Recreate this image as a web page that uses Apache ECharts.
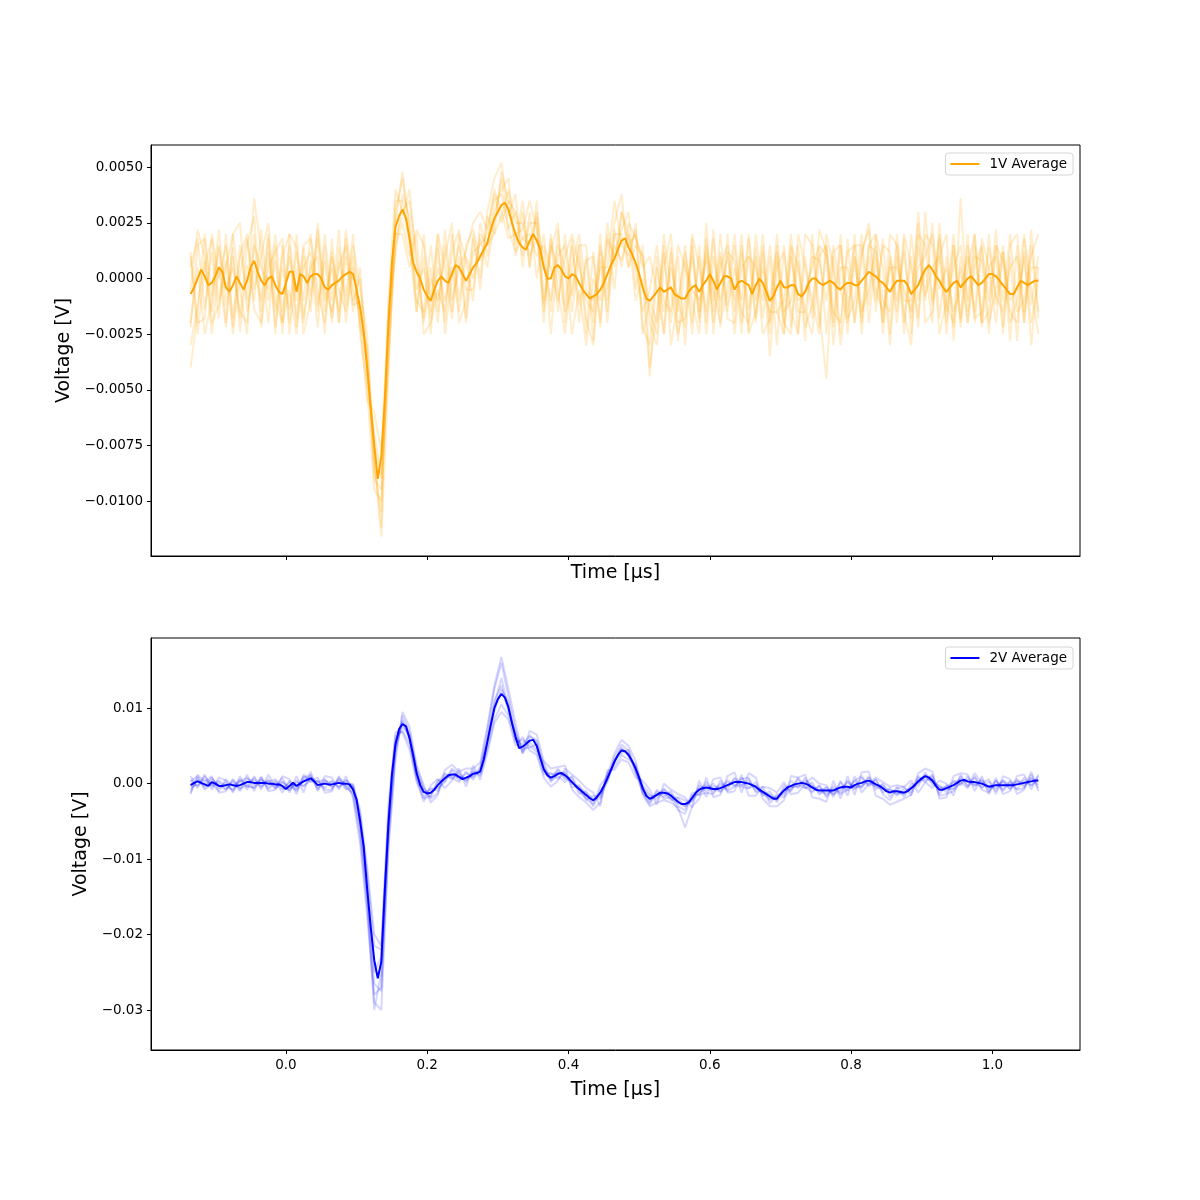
<!DOCTYPE html>
<html>
<head>
<meta charset="utf-8">
<script src="https://cdn.jsdelivr.net/npm/echarts@6/dist/echarts.min.js"></script>
<style>
  html, body { margin: 0; padding: 0; background: #fff; }
  #chart { width: 1200px; height: 1200px; }
</style>
</head>
<body>
<div id="chart"></div>
<script>
// all voltages below are in units of 0.1 mV (1e-4 V)
const UNIT = 1e-4
const T_START = -0.135   // µs, first sample
const AVG_STEP = 0.005   // µs between samples of the averages
const TRACE_STEP = 0.01  // µs between samples of the single shots

const xTicks = [0, 0.2, 0.4, 0.6, 0.8, 1.0]
const yTicks1V = [-0.01, -0.0075, -0.005, -0.0025, 0, 0.0025, 0.005]
const yTicks2V = [-0.03, -0.02, -0.01, 0, 0.01]

const avg1V = [
  -7, -4, 0, 4, 1, -3, -2, 1, 5, 3, -4, -6, -3, 1, -2, -5, -1, 5, 8, 3,
  -1, -3, 0, 1, -3, -6, -7, -2, 3, 3, -6, 2, 1, -2, 1, 2, 2, 0, -4, -5,
  -3, -2, -1, 1, 2, 3, 2, -5, -13, -24, -40, -58, -75, -90, -80, -54, -21, 7, 23, 28,
  31, 27, 18, 7, 3, 0, -5, -8, -10, -5, -1, 1, -1, -2, 2, 6, 5, 2, -1, 2,
  5, 7, 10, 13, 16, 22, 27, 30, 33, 34, 31, 25, 20, 16, 14, 13, 17, 20, 17, 13,
  5, 0, 0, 5, 6, 4, 1, 0, 2, 1, -2, -5, -7, -9, -8, -7, -5, -2, 2, 6,
  9, 13, 17, 18, 14, 11, 7, 2, -4, -9, -10, -8, -6, -4, -6, -5, -4, -7, -8, -9,
  -9, -6, -4, -3, -6, -3, -1, 2, -1, -5, -2, 1, 1, 0, -5, -2, -1, -2, -3, -7,
  -3, 0, -2, -6, -10, -8, -4, -1, -4, -4, -3, -3, -7, -8, -6, -2, 0, 0, -2, -3,
  -2, -1, -2, -4, -5, -3, -2, -2, -3, -3, -1, 1, 3, 2, 1, -1, -2, -4, -6, -3,
  -1, -1, -1, -3, -7, -5, -3, 1, 4, 6, 4, 1, -1, -4, -6, -4, -2, -1, -4, -2,
  0, 1, -1, -3, -2, 0, 2, 2, 1, -1, -3, -5, -7, -7, -4, -1, -2, -3, -2, -1,
  -1,
]

const avg2V = [
  -2, 1, 3, 1, -1, -3, 2, 0, -3, -3, -2, -1, -2, -3, -2, 0, 2, 2, 1, 1,
  1, 1, 0, 0, -1, -1, -3, -7, -3, 1, -3, 0, 3, 5, 7, 3, -2, -1, 0, -1,
  -1, 0, 1, 0, 0, -1, -8, -21, -50, -83, -140, -190, -234, -258, -236, -141, -55, 12, 52, 72,
  79, 76, 60, 38, 14, -2, -11, -13, -12, -8, -2, 3, 7, 11, 12, 12, 9, 6, 8, 10,
  13, 14, 16, 32, 55, 78, 100, 112, 119, 114, 101, 80, 62, 47, 49, 53, 57, 58, 50, 34,
  19, 11, 8, 10, 13, 14, 11, 7, 2, -3, -7, -11, -15, -19, -22, -18, -12, -3, 7, 18,
  29, 38, 44, 43, 38, 30, 20, 8, -6, -16, -20, -18, -15, -12, -12, -13, -16, -20, -24, -27,
  -27, -25, -19, -12, -8, -6, -5, -6, -7, -7, -6, -4, -2, 0, 2, 2, 2, 1, 0, -2,
  -4, -8, -11, -14, -17, -20, -20, -14, -9, -5, -3, -1, 0, 1, 0, -2, -5, -8, -9, -9,
  -9, -9, -9, -7, -5, -4, -4, -5, -2, 0, 1, 3, 4, 2, -1, -3, -6, -10, -12, -10,
  -10, -11, -12, -10, -6, -2, 3, 7, 10, 8, 4, -3, -8, -8, -6, -4, -2, 1, 4, 5,
  3, 2, 2, 1, 0, -2, -4, -3, -2, -2, -2, -2, -2, -2, -1, 0, 1, 2, 3, 4,
  4,
]

// single shots, 1 V drive
const shot1V_a = [
  -30, -12, 8, -15, 14, -20, 10, -18, 15, 28,
  -15, 18, -22, 5, -14, 12, -10, 20, -12, 8,
  -18, 14, -8, 20, -25, -50, -95, -100, -30, 30,
  45, 22, -15, 10, -25, 14, -20, 12, 22, -18,
  18, -5, 30, 45, 52, 28, 38, 5, 30, 0,
  20, -15, 22, -12, 18, -20, 10, -28, 12, -10,
  25, 38, 5, 25, -22, -30, 10, -25, 14, -28,
  8, -25, 15, -20, 18, -22, 20, -15, 12, -24,
  14, -18, 10, -30, 15, -22, 8, -28, 20, -15,
  -45, 10, -25, 18, -20, 12, 22, -15, 18, -25,
  15, -20, 10, -22, 30, -10, 18, -25, 15, -18,
  20, -20, 14, -10, 22, -22, 10, -28, 18, -12,
  10,
]
const shot1V_b = [
  5, 18, -14, 12, -18, 20, -22, 15, -10, 36,
  12, -20, 15, -25, 20, -18, 14, -8, 22, -15,
  12, -20, 18, -10, 0, -35, -80, -112, -10, 40,
  30, 35, 10, -18, 5, -20, 15, -15, 20, 8,
  -10, 25, 10, 30, 40, 45, 10, 30, 5, 35,
  -10, 18, -15, 20, -8, 15, -25, 12, -20, 18,
  10, 22, 30, -5, 15, -40, -15, 12, -20, 10,
  -30, 15, -18, 12, -15, 20, -12, 15, -20, 10,
  -18, 15, -25, 12, -20, 14, -25, 10, -18, 22,
  12, -22, 15, -25, 10, -18, 15, 12, -20, 8,
  -20, 18, -25, 15, -10, 25, -18, 10, -22, 36,
  -15, 15, -22, 20, -12, 12, -28, 15, -20, 22,
  -15,
]
const shot1V_c = [
  -40, -15, 20, -8, 22, -12, 14, -24, 6, -10,
  22, -10, 8, -20, -5, -25, 10, -15, 18, -10,
  5, -15, 22, -5, -15, -45, -70, -88, -40, 20,
  20, 5, 20, -25, -20, -5, -15, 20, -10, 15,
  22, 8, 15, 20, 28, 40, 25, 25, 10, 18,
  12, -25, 10, 15, -15, 10, -18, -30, 8, -15,
  22, 5, 25, 18, 10, -15, -25, 15, -30, -10,
  12, -10, -25, 18, -10, 12, -18, -20, 15, -14,
  10, -25, -18, 20, -15, -10, 15, -22, -12, 14,
  -25, 12, 15, -18, -10, 20, -12, 20, 5, -30,
  10, -15, -30, 20, 15, -12, 10, 20, -28, 10,
  -20, 10, 8, -25, 15, 8, -15, -20, 12, -30,
  5,
]
const shot1V_d = [
  10, -20, -18, 20, 0, 15, -18, 10, 20, -14,
  -20, 12, -15, 10, 20, 14, -20, 8, -22, 15,
  -20, 8, -12, 15, -5, -25, -90, -95, -25, 15,
  25, 10, 22, 15, -10, 20, 5, -18, 10, -20,
  12, 15, 20, 40, 30, 18, 20, 22, 35, 22,
  -12, 12, 25, -20, 15, -12, 8, 10, -22, 20,
  -5, 30, 15, 20, 5, 10, -5, -25, 12, -20,
  -18, 20, 5, -15, 22, -15, 12, 8, -25, 18,
  -20, 12, -35, 5, 12, -15, -25, 20, 15, -22,
  15, -15, -20, 12, 15, -25, 10, -10, 15, 12,
  -15, 20, 5, -18, 20, 15, -25, -10, 20, -20,
  15, -18, -15, 14, -8, -15, 5, 10, -20, 15,
  -18,
]
const shot1V_e = [
  -20, 5, -25, -10, 15, -5, 5, -15, -20, 15,
  5, -5, 20, -15, 10, -10, 15, 18, -5, -20,
  10, -5, -15, 5, -20, -55, -60, -78, -15, 10,
  38, 28, -5, 5, -18, 5, -10, 5, -15, 10,
  0, 18, 5, 25, 45, 22, 12, 18, 20, 10,
  15, 5, -10, 10, 20, 5, -10, -15, 15, -5,
  15, 8, 20, 5, -15, -5, 15, -10, -15, 15,
  5, -5, -10, 10, -20, 5, 15, -25, 5, 10,
  5, -10, 15, -15, -25, 10, -10, -5, 5, 15,
  10, -30, 5, 5, -20, 10, 25, -5, -15, 5,
  5, -5, -15, 5, 10, 20, -5, 5, -15, -5,
  10, -15, 18, 5, -20, 12, -10, -5, 20, -5,
  -25,
]
const shot1V_f = [
  -5, 22, 10, -25, 5, -22, 20, 25, -15, 5,
  -10, 20, -25, 15, -20, 20, -18, 5, 10, -25,
  18, -20, 10, -12, -10, -40, -85, -105, -20, 25,
  48, 20, -10, -15, 15, -15, 22, -10, 5, 12,
  25, 30, 22, 38, 25, 35, 30, 10, 25, 25,
  -20, 20, -5, -25, 5, 20, -5, -10, 5, 5,
  35, 15, 10, 22, -25, -10, -20, 20, -5, -25,
  -10, 10, -15, 15, -5, -20, -5, 20, -15, -20,
  20, -5, -15, -15, -10, 20, -15, -15, 10, 8,
  -10, 15, -5, -20, 20, -15, -5, 15, -10, -15,
  20, -10, -10, 25, -20, -15, 20, -15, 5, 15,
  -10, 20, -20, -15, 15, -10, 20, -15, -10, 10,
  20,
]
const shot1V_g = [
  12, -25, 5, 18, -10, 8, -25, 2, 18, -5,
  10, 25, -10, -20, 15, -22, 5, 12, -15, 20,
  -10, 22, -20, 10, -22, -30, -75, -90, -35, 18,
  28, 40, 5, -20, 0, -10, 10, 25, -20, -10,
  20, 0, 28, 20, 48, 35, 15, 35, 5, 30,
  5, -10, 15, 5, -25, -5, -30, 0, -10, 25,
  5, 30, 20, -10, 0, -44, 5, -15, 5, -10,
  -22, 18, -20, 25, -25, 10, -15, 5, -10, 20,
  -10, 20, -20, 10, -25, 15, 5, -15, -25, 10,
  15, -20, 20, -15, 10, -20, 15, 20, -25, 10,
  -10, 12, -18, 30, -8, 5, 10, -20, 15, -22,
  5, 20, -20, 5, 10, -25, 15, 20, -15, 5,
  5,
]
const shot1V_h = [
  -22, 15, 18, -20, -12, 5, 20, -5, -25, 20,
  -22, 5, 12, 18, -25, 5, -25, -10, 25, -5,
  -15, 5, 15, -15, 5, -42, -82, -116, -45, 35,
  35, 15, -15, 20, -15, 20, -25, 0, 15, -5,
  -5, 20, 15, 35, 38, 22, 30, 18, 15, 28,
  -15, 15, 5, -15, -5, 15, 15, -20, 20, -20,
  20, 20, 5, 15, 10, -20, -30, 5, 20, -15,
  15, -20, 10, -25, 10, -10, 10, -10, 20, -25,
  -15, 5, -10, 15, -20, -25, 20, 5, -10, -25,
  20, 5, -30, -5, 15, 15, -20, 10, -20, 20,
  15, -25, 20, -10, 5, -20, 25, -12, -20, 5,
  -20, 5, 15, -20, -5, 15, -20, -10, 10, -20,
  0,
]

// single shots, 2 V drive
const shot2V_a = [
  -8, 5, -3, 8, -6, 2, -10, 3, 8, -2,
  6, -5, 4, -8, 2, -10, 8, 12, -6, 5,
  -4, 6, -3, -15, -70, -165, -280, -270, -80, 40,
  90, 68, 20, -5, -18, 5, 3, 18, 4, 14,
  8, 22, 70, 125, 160, 115, 70, 42, 62, 58,
  24, 2, 18, 6, 8, -14, -10, -30, -8, 2,
  35, 52, 44, 15, -12, -28, -8, -18, -10, -30,
  -35, -12, -14, 2, -12, 0, -8, 8, -3, 6,
  -10, -4, -22, -14, -15, 4, -6, 8, -10, -3,
  -16, -3, -12, 4, -8, 8, -2, 5, -12, -6,
  -16, -6, -12, 10, 4, 12, -14, -2, -8, 10,
  -4, 8, -6, 3, -10, 5, -8, 6, -5, 8,
  -2,
]
const shot2V_b = [
  5, -3, 6, -4, 2, -8, 5, -6, -3, 8,
  -5, 6, -7, 3, -9, 2, -3, 4, 3, -6,
  4, -5, 5, -3, -40, -120, -215, -220, -40, 62,
  70, 52, 8, -18, -6, -10, 12, 6, 15, 2,
  18, 10, 45, 85, 105, 90, 55, 58, 50, 42,
  12, 14, 6, 16, -5, -2, -22, -16, -18, 14,
  22, 38, 32, 26, -2, -14, -22, -6, -22, -18,
  -22, -25, -2, -10, 0, -12, 5, -4, 8, -6,
  2, -16, -10, -25, -2, -10, 6, -6, 2, -15,
  -4, -15, 2, -10, 4, -6, 10, -8, 0, -18,
  -4, -18, 0, -4, 15, -2, -2, -12, 4, -2,
  10, -4, 6, -10, 4, -8, 4, -8, 8, -3,
  10,
]
const shot2V_c = [
  -12, 8, -8, 0, -10, 6, -4, 4, -4, -5,
  8, -8, 2, -12, 4, -6, 10, 2, 4, -8,
  -8, 8, -6, -12, -60, -150, -300, -250, -60, 45,
  82, 58, 5, -20, -16, 2, 14, 8, 2, 16,
  5, 20, 60, 110, 130, 95, 68, 40, 55, 45,
  28, 4, 10, 2, 10, -10, -20, -28, -2, 10,
  32, 40, 45, 18, -12, -25, -10, -20, -18, -35,
  -40, -15, -15, -12, -14, 4, -10, -4, 6, 8,
  -12, -8, -26, -16, -18, -8, 8, -4, -12, -2,
  -18, -6, -14, -8, 4, 10, -4, 6, -14, -22,
  -6, -4, -16, 8, 2, 10, -16, -14, -10, 2,
  -6, 10, -8, -12, 4, -10, 2, -8, -6, 12,
  -6,
]
const shot2V_d = [
  3, 10, -6, 6, -2, -8, 2, -10, 6, 4,
  -3, 4, -6, 2, -4, -8, 5, 10, -8, 3,
  2, -4, 4, -5, -45, -130, -250, -230, -50, 55,
  76, 64, 18, -12, -8, -6, 2, 20, 12, 4,
  16, 12, 50, 95, 125, 108, 58, 52, 64, 55,
  16, 12, 14, 14, 0, -4, -12, -20, -20, 4,
  28, 48, 36, 22, -8, -16, -18, -8, -14, -20,
  -30, -20, -6, -2, -8, -10, -4, 6, -2, 2,
  -6, -12, -14, -22, -6, -4, -4, 4, -2, -12,
  -12, -10, -4, -6, -4, -4, 8, -4, -2, -10,
  -12, -14, -4, 0, 12, 6, -6, -4, 2, 6,
  2, -2, 4, -6, -2, 2, -6, 2, 4, -2,
  6,
]
const shot2V_e = [
  -4, -2, 10, -2, 4, -4, -8, 6, -2, -6,
  4, 2, 6, -6, -8, 4, -4, 8, 2, 6,
  -6, 4, -8, -2, -55, -145, -265, -275, -70, 48,
  84, 62, 12, -8, -20, -12, 8, 10, 8, 6,
  10, 18, 55, 105, 140, 100, 62, 46, 48, 52,
  20, 6, 20, 8, 2, -8, -18, -24, -14, 6,
  30, 46, 40, 14, -4, -22, -14, -14, -20, -26,
  -30, -22, -12, -6, -4, -4, 2, -2, -4, -6,
  -2, -14, -20, -18, -12, -6, -2, -6, -4, -8,
  -6, -14, -8, 2, -6, -2, 2, -4, -8, -8,
  -14, -10, -6, 2, 8, 2, -4, -8, -6, 0,
  6, 0, -4, -2, -6, 4, -2, 4, -2, 6,
  2,
]
const shot2V_f = [
  10, -6, 12, -8, 8, 4, -12, 10, -8, 10,
  -8, 12, -4, 8, -12, 10, -12, 16, -10, 10,
  8, -8, 10, -20, -80, -175, -290, -300, -90, 30,
  95, 75, 25, -2, -25, -15, 18, 25, 16, 20,
  20, 28, 75, 130, 168, 125, 80, 40, 70, 65,
  30, 20, 22, 24, -8, -18, -25, -35, -25, 12,
  40, 58, 50, 30, -15, -30, -25, -22, -25, -32,
  -58, -30, -20, 8, -18, -15, 10, 15, -12, 14,
  8, -20, -30, -30, -22, 10, 8, 12, -18, -20,
  -24, 4, -20, 10, -15, 15, 16, -16, -20, -28,
  -24, -20, -15, 14, 20, 16, -20, -18, 10, 14,
  12, -10, 10, -14, 8, -14, -10, 10, 12, -8,
  12,
]
const shot2V_g = [
  -14, 12, 2, 10, -12, -10, 6, -8, 12, -10,
  10, -10, -8, 10, 6, -14, 12, 4, 8, -12,
  -10, 10, -4, 0, -35, -110, -200, -215, -30, 68,
  68, 45, 2, -24, -2, 6, -6, 4, 20, -4,
  24, 5, 40, 80, 95, 85, 50, 62, 44, 38,
  8, -4, 4, 20, 12, 4, -6, -12, -30, 18,
  18, 32, 28, 8, 4, -8, -28, 0, -8, -14,
  -18, -32, 4, -18, 6, 8, -12, -10, 12, -16,
  -16, -4, -6, -12, 2, -14, -12, 0, 8, 0,
  -2, -18, 4, -16, 10, -12, 0, 8, 2, -4,
  -2, -4, 4, -12, 2, -6, 4, 0, -16, 12,
  -4, 14, 0, 6, -14, 10, 6, -14, -8, 16,
  -10,
]

const ORANGE = '#ffa500'
const BLUE = '#0000ff'
const FONT = 'DejaVu Sans'

const shots1V = [shot1V_a, shot1V_b, shot1V_c, shot1V_d, shot1V_e, shot1V_f, shot1V_g, shot1V_h]
const shots2V = [shot2V_a, shot2V_b, shot2V_c, shot2V_d, shot2V_e, shot2V_f, shot2V_g]

function toPoints(vals, step) {
  return vals.map((v, i) => [T_START + i * step, v * UNIT])
}

function shotSeries(vals, k, color, idx, opacity) {
  return {
    name: 'shot' + idx + '_' + k,
    type: 'line',
    xAxisIndex: idx,
    yAxisIndex: idx,
    data: toPoints(vals, TRACE_STEP),
    symbol: 'none',
    silent: true,
    z: 1,
    lineStyle: { color, width: 2, opacity },
    itemStyle: { color },
  }
}

function avgSeries(name, vals, color, idx) {
  return {
    name,
    type: 'line',
    xAxisIndex: idx,
    yAxisIndex: idx,
    data: toPoints(vals, AVG_STEP),
    symbol: 'none',
    silent: true,
    z: 3,
    lineStyle: { color, width: 2 },
    itemStyle: { color },
  }
}

const minus = s => s.replace('-', '\u2212')

function xAxis(idx, withLabels, nameGap) {
  return {
    type: 'value',
    gridIndex: idx,
    min: -0.191,
    max: 1.124,
    name: 'Time [µs]',
    nameLocation: 'middle',
    nameGap,
    nameTextStyle: { fontSize: 19, color: '#000', fontFamily: FONT },
    axisLine: { show: true, onZero: false, lineStyle: { color: '#000', width: 1 } },
    axisTick: { show: true, length: 4, customValues: xTicks, lineStyle: { color: '#000', width: 1 } },
    axisLabel: {
      show: withLabels, customValues: xTicks, color: '#000', fontSize: 13.5, fontFamily: FONT, margin: 8,
      formatter: v => minus(v.toFixed(1)),
    },
    splitLine: { show: false },
  }
}

function yAxis(idx, min, max, ticks, digits, nameGap) {
  return {
    type: 'value',
    gridIndex: idx,
    min,
    max,
    name: 'Voltage [V]',
    nameLocation: 'middle',
    nameGap,
    nameTextStyle: { fontSize: 19, color: '#000', fontFamily: FONT },
    axisLine: { show: true, onZero: false, lineStyle: { color: '#000', width: 1 } },
    axisTick: { show: true, length: 4, customValues: ticks, lineStyle: { color: '#000', width: 1 } },
    axisLabel: {
      customValues: ticks, color: '#000', fontSize: 13.5, fontFamily: FONT, margin: 8,
      formatter: v => minus(v.toFixed(digits)),
    },
    splitLine: { show: false },
  }
}

function legend(name, top) {
  return {
    data: [name],
    right: 127,
    top,
    icon: 'rect',
    itemWidth: 29,
    itemHeight: 2,
    padding: [4, 6, 4, 5],
    borderColor: '#d6d6d6',
    borderWidth: 1,
    borderRadius: 3,
    backgroundColor: 'rgba(255,255,255,0.8)',
    textStyle: { fontSize: 13.5, color: '#000', fontFamily: FONT, padding: [0, 0, 0, 5] },
  }
}

const chart = echarts.init(document.getElementById('chart'), null, { renderer: 'canvas' })
chart.setOption({
  animation: false,
  backgroundColor: '#fff',
  textStyle: { fontFamily: FONT },
  grid: [
    { left: 151, right: 120, top: 145, height: 411, show: true, borderColor: '#000', borderWidth: 1, backgroundColor: 'transparent' },
    { left: 151, right: 120, top: 638, height: 412, show: true, borderColor: '#000', borderWidth: 1, backgroundColor: 'transparent' },
  ],
  legend: [legend('1V Average', 153), legend('2V Average', 647)],
  xAxis: [xAxis(0, false, 8), xAxis(1, true, 31)],
  yAxis: [
    yAxis(0, -0.01247, 0.006, yTicks1V, 4, 77),
    yAxis(1, -0.0353, 0.0193, yTicks2V, 2, 57),
  ],
  series: [
    ...shots1V.map((s, k) => shotSeries(s, k, ORANGE, 0, 0.2)),
    avgSeries('1V Average', avg1V, ORANGE, 0),
    ...shots2V.map((s, k) => shotSeries(s, k, BLUE, 1, 0.16)),
    avgSeries('2V Average', avg2V, BLUE, 1),
  ],
})
</script>
</body>
</html>
